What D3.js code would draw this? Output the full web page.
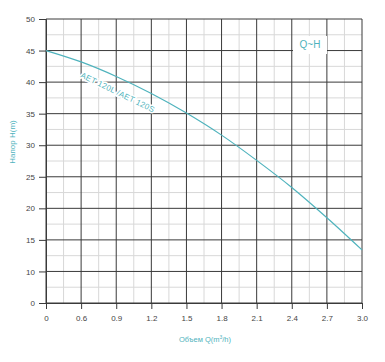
<!DOCTYPE html>
<html><head><meta charset="utf-8">
<script src="https://cdn.jsdelivr.net/npm/d3@7"></script>
<style>body{margin:0;background:#fff;} text{font-family:"Liberation Sans",Arial,sans-serif;}</style>
</head><body>
<svg id="c" width="385" height="362"></svg>
<script>
// tick positions (actual) and their printed labels
const xTickValues = [0.3,0.6,0.9,1.2,1.5,1.8,2.1,2.4,2.7,3.0];
const xTickLabels = ["0","0.6","0.9","1.2","1.5","1.8","2.1","2.4","2.7","3.0"];
const yTickValues = [5,10,15,20,25,30,35,40,45,50];
const yTickLabels = ["0","10","15","20","25","30","35","40","45","50"];
// Q-H curve
const flowQ = [0.3,0.6,0.9,1.2,1.5,1.8,2.1,2.4,2.7,3.0];
const headH = [45,43.2,40.9,38.2,35.1,31.6,27.6,23.3,18.5,13.4];

const teal = "#4fb3bd";
const svg = d3.select("#c");
const m = {l:46, r:362, t:19, b:303};
const x = d3.scaleLinear().domain([0.3,3.0]).range([m.l,m.r]);
const y = d3.scaleLinear().domain([5,50]).range([m.b,m.t]);

// minor grid
const xMinor = xTickValues.slice(0,-1).map((v,i)=>(v+xTickValues[i+1])/2);
const yMinor = yTickValues.slice(0,-1).map((v,i)=>(v+yTickValues[i+1])/2);
const g = svg.append("g");
g.selectAll(".vx").data(xMinor).join("line")
 .attr("x1",d=>x(d)).attr("x2",d=>x(d)).attr("y1",m.t).attr("y2",m.b)
 .attr("stroke","#d8d8d8").attr("stroke-width",1);
g.selectAll(".hy").data(yMinor).join("line")
 .attr("y1",d=>y(d)).attr("y2",d=>y(d)).attr("x1",m.l).attr("x2",m.r)
 .attr("stroke","#d8d8d8").attr("stroke-width",1);
// major grid
g.selectAll(".VX").data(xTickValues).join("line")
 .attr("x1",d=>x(d)).attr("x2",d=>x(d)).attr("y1",m.t).attr("y2",m.b)
 .attr("stroke","#3a3a3a").attr("stroke-width",1);
g.selectAll(".HY").data(yTickValues).join("line")
 .attr("y1",d=>y(d)).attr("y2",d=>y(d)).attr("x1",m.l).attr("x2",m.r)
 .attr("stroke","#3a3a3a").attr("stroke-width",1);

// axes
const xa = svg.append("g").attr("transform",`translate(0,${m.b})`)
 .call(d3.axisBottom(x).tickValues(xTickValues).tickSize(6).tickPadding(6)
   .tickFormat((d,i)=>xTickLabels[i]));
const ya = svg.append("g").attr("transform",`translate(${m.l},0)`)
 .call(d3.axisLeft(y).tickValues(yTickValues).tickSize(7).tickPadding(4)
   .tickFormat((d,i)=>yTickLabels[i]));
[xa,ya].forEach(a=>{
  a.select(".domain").attr("stroke","#3a3a3a");
  a.selectAll(".tick line").attr("stroke","#3a3a3a");
  a.selectAll("text").attr("fill","#444").style("font-size","8px");
});

// curve
const pts = flowQ.map((q,i)=>[q,headH[i]]);
svg.append("path").datum(pts)
 .attr("d",d3.line().x(d=>x(d[0])).y(d=>y(d[1])).curve(d3.curveMonotoneX))
 .attr("fill","none").attr("stroke",teal).attr("stroke-width",1.2);

// curve label
svg.append("text").attr("transform","translate(80,77) rotate(26)")
 .attr("fill",teal).style("font-size","8px").style("letter-spacing","0.3px")
 .attr("stroke","#fff").attr("stroke-width",3).attr("paint-order","stroke")
 .text("AET 120L /AET 120S");

// Q~H label box
svg.append("rect").attr("x",293).attr("y",36).attr("width",34).attr("height",18).attr("fill","#fff");
svg.append("text").attr("x",310).attr("y",48).attr("text-anchor","middle")
 .attr("fill",teal).style("font-size","10px").text("Q~H");

// axis titles
svg.append("text").attr("transform","translate(15,142) rotate(-90)")
 .attr("text-anchor","middle").attr("fill",teal).style("font-size","8px").text("Напор H(m)");
svg.append("text").attr("x",205).attr("y",342).attr("text-anchor","middle")
 .attr("fill",teal).style("font-size","7.5px")
 .html("Объем Q(m<tspan dy='-3' font-size='5px'>3</tspan><tspan dy='3'>/h)</tspan>");
</script>
</body></html>
